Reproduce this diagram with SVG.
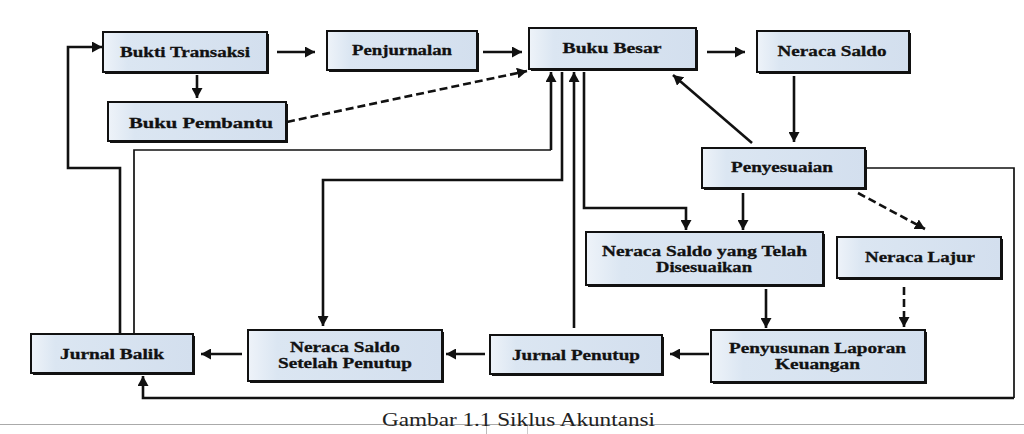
<svg xmlns="http://www.w3.org/2000/svg" width="1024" height="434" viewBox="0 0 1024 434">
<defs>
<linearGradient id="bf" x1="0" y1="0" x2="1" y2="0">
<stop offset="0" stop-color="#eef3f9"/>
<stop offset="0.15" stop-color="#dbe6f2"/>
<stop offset="1" stop-color="#d3dfee"/>
</linearGradient>
<marker id="ah" markerUnits="userSpaceOnUse" markerWidth="10" markerHeight="11" viewBox="0 0 10 11" refX="10" refY="5.5" orient="auto">
<path d="M0,0 L10,5.5 L0,11 z" fill="#111"/>
</marker>
</defs>
<style>
.box{fill:url(#bf);stroke:#111;stroke-width:2}
.sh{fill:#111}
.lbl{font-family:'Liberation Serif','DejaVu Serif',serif;font-weight:700;font-size:15.5px;fill:#111;stroke:#111;stroke-width:0.3;text-anchor:middle}
.c{fill:none;stroke:#111;stroke-width:2.6}
.ca{fill:none;stroke:#111;stroke-width:2.6;marker-end:url(#ah)}
.cd{fill:none;stroke:#111;stroke-width:2.6;stroke-dasharray:8 4;marker-end:url(#ah)}
.thin{fill:none;stroke:#111;stroke-width:1.7}
.cap{font-family:'Liberation Serif','DejaVu Serif',serif;font-size:18px;fill:#222;text-anchor:middle}
</style>
<rect width="1024" height="434" fill="#fff"/>

<g id="connectors">
<path class="ca" d="M277,52 L315,52"/>
<path class="ca" d="M483,52 L522,52"/>
<path class="ca" d="M707,52 L745,52"/>
<path class="ca" d="M197,75 L197,98"/>
<path class="cd" d="M287,122 L527,71"/>
<path class="ca" d="M794,76 L794,142"/>
<path class="ca" d="M752,143 L673,75"/>
<path class="ca" d="M743,193 L743,230"/>
<path class="ca" d="M584,72 L584,208 L686,208 L686,230"/>
<path class="cd" d="M858,193 L925,229"/>
<path class="ca" d="M766,289 L766,328"/>
<path class="cd" d="M904,287 L904,327"/>
<path class="ca" d="M709,354 L670,354"/>
<path class="ca" d="M485,354 L446,354"/>
<path class="ca" d="M242,354 L201,354"/>
<path class="ca" d="M574,328 L574,72"/>
<path class="ca" d="M562,72 L562,180 L323,180 L323,326"/>
<path class="thin" d="M134,333 L134,150 L551,150"/>
<path class="ca" d="M551,150 L551,72"/>
<path class="ca" d="M120,333 L120,168 L68,168 L68,47 L102,47"/>
<path class="thin" d="M866,168 L1014,168 L1014,398"/>
<path class="ca" d="M1014,398 L143,398 L143,376"/>
</g>

<g id="n-bukti"><rect class="sh" x="105" y="34" width="164" height="40"/><rect class="box" x="103" y="32" width="164" height="40"/><text class="lbl" x="185" y="57" textLength="130" lengthAdjust="spacingAndGlyphs">Bukti Transaksi</text></g>
<g id="n-penjurnalan"><rect class="sh" x="329" y="33" width="150" height="39"/><rect class="box" x="327" y="31" width="150" height="39"/><text class="lbl" x="402" y="55" textLength="100" lengthAdjust="spacingAndGlyphs">Penjurnalan</text></g>
<g id="n-pembantu"><rect class="sh" x="110" y="104" width="178" height="39"/><rect class="box" x="108" y="102" width="178" height="39"/><text class="lbl" x="201" y="128" textLength="144" lengthAdjust="spacingAndGlyphs">Buku Pembantu</text></g>
<g id="n-besar"><rect class="sh" x="531" y="30" width="167" height="41"/><rect class="box" x="529" y="28" width="167" height="41"/><text class="lbl" x="612" y="53" textLength="99" lengthAdjust="spacingAndGlyphs">Buku Besar</text></g>
<g id="n-saldo"><rect class="sh" x="759" y="33" width="152" height="41"/><rect class="box" x="757" y="31" width="152" height="41"/><text class="lbl" x="832" y="56" textLength="109" lengthAdjust="spacingAndGlyphs">Neraca Saldo</text></g>
<g id="n-penyesuaian"><rect class="sh" x="704" y="150" width="163" height="40"/><rect class="box" x="702" y="148" width="163" height="40"/><text class="lbl" x="782" y="172" textLength="102" lengthAdjust="spacingAndGlyphs">Penyesuaian</text></g>
<g id="n-nstd"><rect class="sh" x="588" y="234" width="237" height="53"/><rect class="box" x="586" y="232" width="237" height="53"/><text class="lbl" x="704.5" y="256" textLength="205" lengthAdjust="spacingAndGlyphs">Neraca Saldo yang Telah</text><text class="lbl" x="704" y="272" textLength="96" lengthAdjust="spacingAndGlyphs">Disesuaikan</text></g>
<g id="n-lajur"><rect class="sh" x="839" y="239" width="164" height="41"/><rect class="box" x="837" y="237" width="164" height="41"/><text class="lbl" x="920" y="262" textLength="110" lengthAdjust="spacingAndGlyphs">Neraca Lajur</text></g>
<g id="n-laporan"><rect class="sh" x="713" y="332" width="214" height="52"/><rect class="box" x="711" y="330" width="214" height="52"/><text class="lbl" x="817.5" y="353" textLength="177" lengthAdjust="spacingAndGlyphs">Penyusunan Laporan</text><text class="lbl" x="817.5" y="369" textLength="85" lengthAdjust="spacingAndGlyphs">Keuangan</text></g>
<g id="n-penutup"><rect class="sh" x="492" y="337" width="172" height="39"/><rect class="box" x="490" y="335" width="172" height="39"/><text class="lbl" x="576" y="360" textLength="128" lengthAdjust="spacingAndGlyphs">Jurnal Penutup</text></g>
<g id="n-nssp"><rect class="sh" x="250" y="332" width="194" height="51"/><rect class="box" x="248" y="330" width="194" height="51"/><text class="lbl" x="345" y="352" textLength="110" lengthAdjust="spacingAndGlyphs">Neraca Saldo</text><text class="lbl" x="345" y="368" textLength="134" lengthAdjust="spacingAndGlyphs">Setelah Penutup</text></g>
<g id="n-balik"><rect class="sh" x="33" y="336" width="162" height="39"/><rect class="box" x="31" y="334" width="162" height="39"/><text class="lbl" x="112" y="359" textLength="104" lengthAdjust="spacingAndGlyphs">Jurnal Balik</text></g>

<g id="caption">
<line x1="0" y1="424.5" x2="1024" y2="424.5" stroke="#aaa" stroke-width="1"/>
<line x1="486.5" y1="425" x2="486.5" y2="434" stroke="#bbb" stroke-width="1"/>
<line x1="527.5" y1="425" x2="527.5" y2="434" stroke="#ccc" stroke-width="1"/>
<text class="cap" x="518.5" y="426" textLength="273" lengthAdjust="spacingAndGlyphs">Gambar 1.1 Siklus Akuntansi</text>
</g>
</svg>
